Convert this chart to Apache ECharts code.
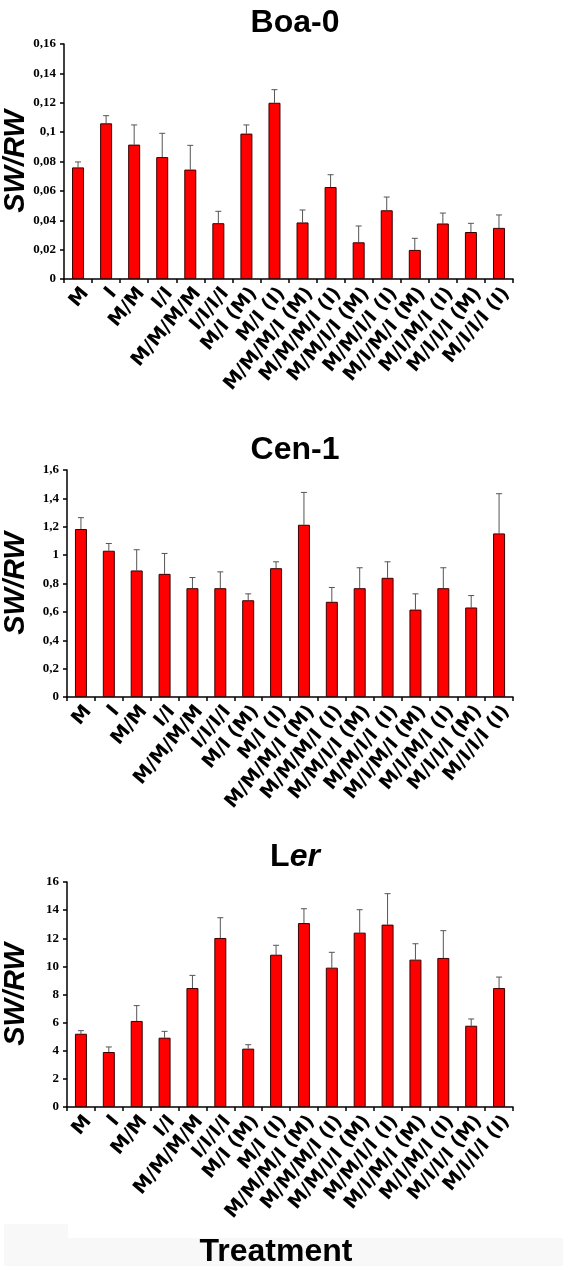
<!DOCTYPE html>
<html>
<head>
<meta charset="utf-8">
<script src="https://cdn.jsdelivr.net/npm/echarts@6/dist/echarts.min.js"></script>
<style>
html,body{margin:0;padding:0;background:#fff;}
#chart{width:568px;height:1270px;}
</style>
</head>
<body>
<div id="chart"></div>
<script>
var categories = ["M","I","M/M","I/I","M/M/M/M","I/I/I/I","M/I (M)","M/I (I)","M/M/M/I (M)","M/M/M/I (I)","M/M/I/I (M)","M/M/I/I (I)","M/I/M/I (M)","M/I/M/I (I)","M/I/I/I (M)","M/I/I/I (I)"];

var boaMean = [0.076,0.106,0.0915,0.083,0.0745,0.038,0.099,0.12,0.0385,0.0626,0.025,0.0468,0.0198,0.0378,0.032,0.0348];
var boaErr  = [0.0037,0.0052,0.0134,0.0162,0.0165,0.0081,0.0059,0.0089,0.0085,0.0084,0.0111,0.009,0.0079,0.0071,0.0059,0.0088];

var cenMean = [1.184,1.031,0.892,0.868,0.767,0.767,0.682,0.908,1.214,0.671,0.767,0.84,0.616,0.767,0.631,1.153];
var cenErr  = [0.08,0.051,0.146,0.144,0.075,0.115,0.045,0.045,0.228,0.101,0.144,0.113,0.111,0.144,0.084,0.28];

var lerMean = [5.21,3.91,6.12,4.93,8.46,12.02,4.15,10.83,13.08,9.91,12.4,12.97,10.48,10.6,5.78,8.46];
var lerErr  = [0.22,0.36,1.09,0.45,0.9,1.44,0.28,0.67,1.02,1.09,1.63,2.2,1.13,1.94,0.48,0.78];

var yTicks = [
  {max:0.16, interval:0.02},
  {max:1.6, interval:0.2},
  {max:16, interval:2}
];

var chart = echarts.init(document.getElementById('chart'), null, {renderer:'canvas'});

var grids = [
  {left:64, right:55, top:44, height:235, outerBoundsMode:'none', containLabel:false},
  {left:67, right:55, top:470, height:227, outerBoundsMode:'none', containLabel:false},
  {left:67, right:55, top:882, height:225, outerBoundsMode:'none', containLabel:false}
];
var nameGaps = [34, 37, 37];

function fmt(v){ return String(+v.toFixed(2)).replace('.', ','); }

var xAxes = [], yAxes = [], series = [];
var means = [boaMean, cenMean, lerMean];
var errs = [boaErr, cenErr, lerErr];
for (var i=0;i<3;i++){
  xAxes.push({
    type:'category', gridIndex:i, data:categories,
    axisLine:{lineStyle:{color:'#000', width:1.5}},
    axisTick:{show:true, alignWithLabel:false, length:4, lineStyle:{color:'#000', width:1.5}},
    axisLabel:{rotate:50, interval:0, margin:5, verticalAlign:'top', fontFamily:'DejaVu Sans', fontWeight:'bold', fontSize:19, color:'#000'}
  });
  yAxes.push({
    type:'value', gridIndex:i, min:0, max:yTicks[i].max, interval:yTicks[i].interval,
    splitLine:{show:false},
    axisLine:{show:true, lineStyle:{color:'#000', width:1.5}},
    axisTick:{show:true, length:4, lineStyle:{color:'#000', width:1.5}},
    axisLabel:{formatter:fmt, fontFamily:'Liberation Serif', fontWeight:'bold', fontSize:13, color:'#000', margin:8},
    name:'SW/RW', nameLocation:'middle', nameGap:nameGaps[i], nameMoveOverlap:false,
    nameTextStyle:{fontFamily:'Liberation Sans', fontWeight:'bold', fontStyle:'italic', fontSize:29, color:'#000'}
  });
  series.push({
    type:'bar', xAxisIndex:i, yAxisIndex:i, data:means[i], barWidth:12,
    itemStyle:{color:'#ff0000', borderColor:'#3a0000', borderWidth:1}
  });
  (function(m, e){
    series.push({
      type:'custom', xAxisIndex:i, yAxisIndex:i,
      data: m.map(function(v,k){ return [k, v, v+e[k]]; }),
      renderItem:function(params, api){
        var base = api.coord([api.value(0), api.value(1)]);
        var top = api.coord([api.value(0), api.value(2)]);
        var c = 3;
        return {type:'group', children:[
          {type:'line', shape:{x1:base[0], y1:base[1], x2:top[0], y2:top[1]}, style:{stroke:'#555', lineWidth:1}},
          {type:'line', shape:{x1:top[0]-c, y1:top[1], x2:top[0]+c, y2:top[1]}, style:{stroke:'#555', lineWidth:1}}
        ]};
      },
      z:1
    });
  })(means[i], errs[i]);
}

var option = {
  animation:false,
  backgroundColor:'#fff',
  title:[
    {text:'Boa-0', left:290, top:18, textAlign:'center', textVerticalAlign:'middle', textStyle:{fontFamily:'Liberation Sans', fontWeight:'bold', fontSize:32, color:'#000'}},
    {text:'Cen-1', left:290, top:445, textAlign:'center', textVerticalAlign:'middle', textStyle:{fontFamily:'Liberation Sans', fontWeight:'bold', fontSize:32, color:'#000'}},
    {text:'{a|L}{b|er}', left:290, top:852, textAlign:'center', textVerticalAlign:'middle', textStyle:{rich:{
      a:{fontFamily:'Liberation Sans', fontWeight:'bold', fontSize:32, color:'#000'},
      b:{fontFamily:'Liberation Sans', fontWeight:'bold', fontStyle:'italic', fontSize:32, color:'#000'}}}}
  ],
  grid:grids,
  xAxis:xAxes,
  yAxis:yAxes,
  series:series,
  graphic:[
    {type:'rect', shape:{x:4, y:1224, width:64, height:42}, style:{fill:'#f8f8f8'}, z:-10},
    {type:'rect', shape:{x:4, y:1238, width:559, height:28}, style:{fill:'#f8f8f8'}, z:-10},
    {type:'text', x:276, y:1252, style:{text:'Treatment', fontFamily:'Liberation Sans', fontWeight:'bold', fontSize:32, fill:'#000', align:'center', verticalAlign:'middle'}, z:10}
  ]
};
chart.setOption(option);
</script>
</body>
</html>
